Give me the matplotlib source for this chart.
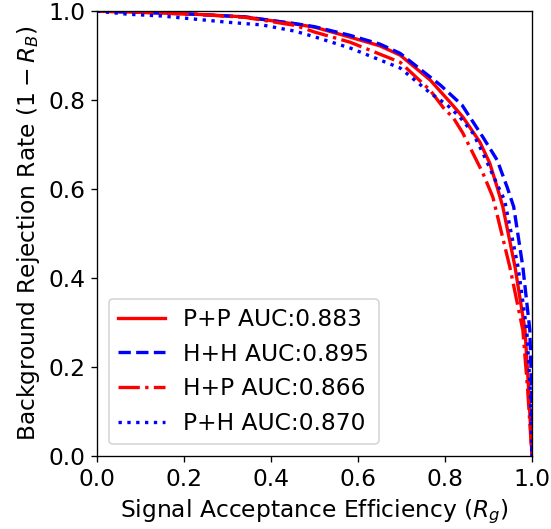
import matplotlib
matplotlib.use("Agg")
import matplotlib.pyplot as plt

# curva P+P (vermelho, sólido)
pp_x = [0.0, 0.11, 0.225, 0.34, 0.455, 0.50, 0.58, 0.65, 0.697, 0.766, 0.811, 0.841, 0.880, 0.903, 0.920, 0.933, 0.961, 0.984, 0.992, 1.0]
pp_y = [1.0, 0.997, 0.993, 0.987, 0.971, 0.964, 0.942, 0.922, 0.901, 0.845, 0.796, 0.762, 0.706, 0.658, 0.604, 0.560, 0.425, 0.283, 0.155, 0.0]

# curva H+H (azul, tracejado)
hh_x = [0.0, 0.11, 0.225, 0.34, 0.455, 0.50, 0.58, 0.65, 0.697, 0.789, 0.839, 0.887, 0.920, 0.943, 0.958, 0.979, 0.995, 0.999, 1.0]
hh_y = [1.0, 0.997, 0.993, 0.987, 0.972, 0.965, 0.946, 0.926, 0.905, 0.834, 0.789, 0.717, 0.665, 0.604, 0.560, 0.425, 0.283, 0.150, 0.0]

# curva H+P (vermelho, traço-ponto)
hp_x = [0.0, 0.11, 0.225, 0.34, 0.455, 0.50, 0.582, 0.697, 0.766, 0.80, 0.818, 0.841, 0.864, 0.887, 0.910, 0.949, 0.979, 0.990, 1.0]
hp_y = [1.0, 0.997, 0.993, 0.986, 0.968, 0.953, 0.930, 0.885, 0.822, 0.778, 0.762, 0.726, 0.681, 0.636, 0.582, 0.425, 0.283, 0.150, 0.0]

# curva P+H (azul, pontilhado)
ph_x = [0.0, 0.071, 0.149, 0.225, 0.30, 0.379, 0.455, 0.501, 0.582, 0.697, 0.766, 0.805, 0.834, 0.864, 0.887, 0.908, 0.937, 0.968, 0.988, 0.996, 1.0]
ph_y = [1.0, 0.993, 0.989, 0.982, 0.975, 0.969, 0.955, 0.942, 0.917, 0.872, 0.816, 0.789, 0.762, 0.726, 0.681, 0.636, 0.575, 0.425, 0.283, 0.150, 0.0]

rotulos = ["P+P AUC:0.883", "H+H AUC:0.895", "H+P AUC:0.866", "P+H AUC:0.870"]

plt.rcParams['font.size'] = 14

fig = plt.figure(figsize=(551 / 120, 529 / 120), dpi=120)
ax = fig.add_axes([0.176, 0.138, 0.7895, 0.841])

ax.plot(pp_x, pp_y, color='red', linestyle='-', lw=2, label=rotulos[0])
ax.plot(hh_x, hh_y, color='blue', linestyle='--', lw=2, label=rotulos[1])
ax.plot(hp_x, hp_y, color='red', linestyle='-.', lw=2, label=rotulos[2])
ax.plot(ph_x, ph_y, color='blue', linestyle=':', lw=2, label=rotulos[3])

ax.set_xlim(0, 1)
ax.set_ylim(0, 1)
ax.set_xlabel('Signal Acceptance Efficiency ($R_g$)')
ax.set_ylabel('Background Rejection Rate ($1-R_B$)')
ax.legend(loc='lower left', fontsize=14)

fig.savefig('out.png', dpi=120)
